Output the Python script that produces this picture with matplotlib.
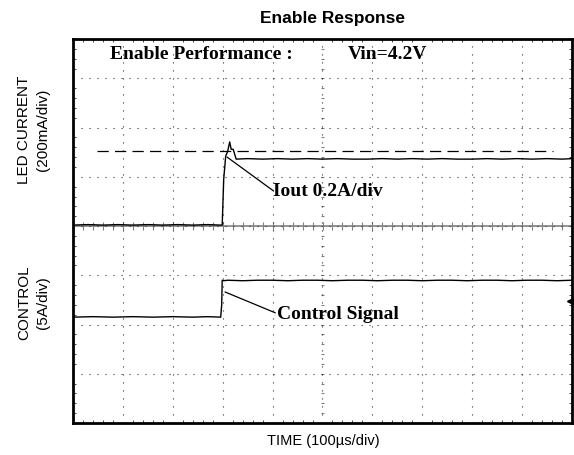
import matplotlib
matplotlib.use("Agg")
import matplotlib.pyplot as plt
import numpy as np

# scope screen, all values in divisions (0 = centre of screen)
led_t = [-5.0, -4.7, -4.4, -4.1, -3.8, -3.5, -3.2, -2.9, -2.6, -2.3, -2.05, -2.01,
         -1.98, -1.94, -1.90, -1.86, -1.83, -1.79, -1.73, -1.5, -1.2, -0.9, -0.6,
         -0.3, 0.0, 0.3, 0.6, 0.9, 1.2, 1.5, 1.8, 2.1, 2.4, 2.7, 3.0, 3.3, 3.6,
         3.9, 4.2, 4.5, 4.8, 5.0]
led_v = [0.02, 0.03, 0.02, 0.03, 0.02, 0.03, 0.02, 0.03, 0.02, 0.03, 0.02, 0.02,
         0.95, 1.42, 1.52, 1.71, 1.56, 1.56, 1.36, 1.37, 1.36, 1.37, 1.36,
         1.37, 1.36, 1.37, 1.36, 1.36, 1.37, 1.36, 1.37, 1.36, 1.37, 1.36, 1.36,
         1.37, 1.36, 1.37, 1.36, 1.37, 1.36, 1.37]

ctl_t = [-5.0, -4.6, -4.2, -3.8, -3.4, -3.0, -2.6, -2.3, -2.04, -2.02, -2.01, -1.98,
         -1.9, -1.6, -1.3, -1.0, -0.7, -0.4, -0.1, 0.2, 0.5, 0.8, 1.1, 1.4, 1.7,
         2.0, 2.3, 2.6, 2.9, 3.2, 3.5, 3.8, 4.1, 4.4, 4.7, 5.0]
ctl_v = [-1.85, -1.84, -1.85, -1.84, -1.85, -1.84, -1.85, -1.84, -1.85, -1.60, -1.10, -1.11,
         -1.10, -1.11, -1.10, -1.10, -1.11, -1.10, -1.10, -1.11, -1.10, -1.10, -1.11, -1.10, -1.10,
         -1.11, -1.10, -1.10, -1.11, -1.10, -1.10, -1.11, -1.10, -1.10, -1.11, -1.10]

limit_level = 1.52
limit_span = [-4.52, 4.62]

fig = plt.figure(figsize=(5.74, 4.56), dpi=100)
ax = fig.add_axes([73 / 574, 32 / 456, 499 / 574, 384 / 456])
ax.set_xlim(-5, 5)
ax.set_ylim(-4, 3.8)

# dotted graticule
ax.set_xticks(np.arange(-4, 5, 1))
ax.set_yticks(np.arange(-3, 4, 1))
ax.set_xticks(np.arange(-5, 5.01, 0.2), minor=True)
ax.set_yticks(np.arange(-4, 3.81, 0.2), minor=True)
ax.grid(True, which="major", color="#333333", linestyle=(0, (1, 6.2)), linewidth=0.8)
ax.tick_params(which="both", labelbottom=False, labelleft=False)
ax.tick_params(which="major", length=0)
ax.tick_params(which="minor", direction="in", length=2.5, width=0.5,
               top=True, right=True)
for s in ax.spines.values():
    s.set_linewidth(2)

# centre axes with small ticks
ax.axhline(0, color="#808080", linewidth=1.2, zorder=1)
ax.vlines(np.arange(-5, 5.01, 0.2), -0.08, 0.08, color="#808080", linewidth=0.8, zorder=1)
ax.hlines(np.arange(-4, 3.81, 0.2), -0.04, 0.04, color="#808080", linewidth=0.8, zorder=1)

ax.plot(limit_span, [limit_level, limit_level], color="black", linestyle=(0, (9, 5)),
        linewidth=0.9)
ax.plot(led_t, led_v, color="black", linewidth=1.0)
ax.plot(ctl_t, ctl_v, color="black", linewidth=1.0)

ax.plot([5.0], [-1.52], marker="<", color="black", markersize=7, clip_on=False)

serif = dict(family="Liberation Serif", fontweight="bold", fontsize=14)
ax.text(-4.26, 3.5, "Enable Performance :", va="center", ha="left", **serif)
ax.text(0.51, 3.5, "Vin=4.2V", va="center", ha="left", **serif)

ax.plot([-1.91, -0.99], [1.40, 0.72], color="black", linewidth=0.9)
ax.text(-1.0, 0.73, "Iout 0.2A/div", va="center", ha="left", **serif)
ax.plot([-1.95, -0.95], [-1.34, -1.76], color="black", linewidth=0.9)
ax.text(-0.91, -1.78, "Control Signal", va="center", ha="left", **serif)

fig.text(333 / 574, 1 - 18 / 456, "Enable Response", ha="center", va="center",
         fontsize=12.5, fontweight="bold", family="Liberation Sans")
fig.text(323 / 574, 1 - 441 / 456, "TIME (100\u00b5s/div)", ha="center", va="center",
         fontsize=10.5, family="Liberation Sans")
fig.text(24 / 574, 1 - 130 / 456, "LED CURRENT", rotation=90, ha="center", va="center",
         fontsize=11, family="Liberation Sans")
fig.text(43 / 574, 1 - 130 / 456, "(200mA/div)", rotation=90, ha="center", va="center",
         fontsize=11, family="Liberation Sans")
fig.text(24 / 574, 1 - 303 / 456, "CONTROL", rotation=90, ha="center", va="center",
         fontsize=11, family="Liberation Sans")
fig.text(43 / 574, 1 - 303 / 456, "(5A/div)", rotation=90, ha="center", va="center",
         fontsize=11, family="Liberation Sans")

fig.savefig("out.png", dpi=100)
